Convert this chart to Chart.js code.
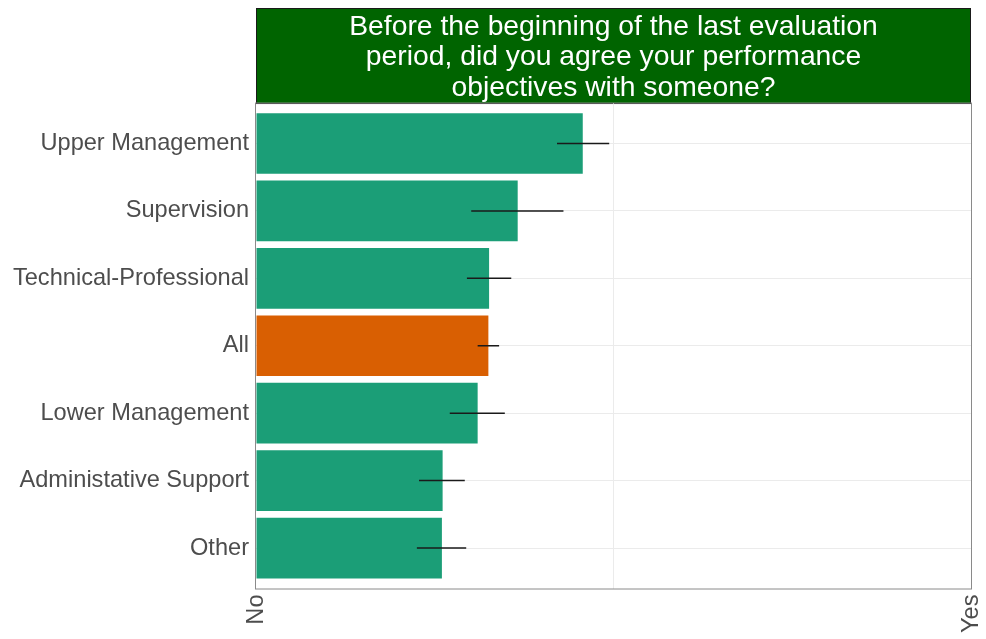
<!DOCTYPE html>
<html>
<head>
<meta charset="utf-8">
<script src="https://cdn.jsdelivr.net/npm/chart.js@4/dist/chart.umd.min.js"></script>
<style>
html,body{margin:0;padding:0;background:#fff;}
#wrap{width:986px;height:639px;}
</style>
</head>
<body>
<div id="wrap"><canvas id="c" width="986" height="639"></canvas></div>
<script>
const titleLines = ["Before the beginning of the last evaluation", "period, did you agree your performance", "objectives with someone?"];
const categories = ["Upper Management", "Supervision", "Technical-Professional", "All", "Lower Management", "Administative Support", "Other"];
const shareYes = [0.457, 0.366, 0.326, 0.325, 0.310, 0.261, 0.260];
const ciLow = [0.421, 0.301, 0.295, 0.310, 0.271, 0.228, 0.225];
const ciHigh = [0.494, 0.430, 0.357, 0.340, 0.348, 0.292, 0.294];
const xTickValues = [0, 0.5, 1];
const xTickLabels = ["No", "", "Yes"];

const GREEN = "#1b9e77", ORANGE = "#d95f02";
const barColors = categories.map(c => c === "All" ? ORANGE : GREEN);
const points = categories.map((c, i) => ({x: shareYes[i], y: i}));

const stripPlugin = {
  id: "strip",
  beforeDraw(chart) {
    const t = chart.titleBlock, a = chart.chartArea, ctx = chart.ctx;
    ctx.save();
    ctx.fillStyle = "#006400";
    ctx.fillRect(a.left, t.top, a.right - a.left, a.top - t.top);
    ctx.strokeStyle = "#1a1a1a";
    ctx.lineWidth = 1;
    ctx.strokeRect(a.left + 0.5, t.top + 0.5, a.right - a.left - 1, a.top - t.top);
    ctx.restore();
  }
};

const errPlugin = {
  id: "errbars",
  afterDatasetsDraw(chart) {
    const xs = chart.scales.x, ys = chart.scales.y, ctx = chart.ctx, a = chart.chartArea;
    ctx.save();
    ctx.strokeStyle = "#1a1a1a";
    ctx.lineWidth = 1.5;
    categories.forEach((c, i) => {
      const y = ys.getPixelForValue(i);
      ctx.beginPath();
      ctx.moveTo(xs.getPixelForValue(ciLow[i]), y);
      ctx.lineTo(xs.getPixelForValue(ciHigh[i]), y);
      ctx.stroke();
    });
    ctx.strokeStyle = "#8a8a8a";
    ctx.lineWidth = 1;
    ctx.strokeRect(a.left - 0.5, a.top, a.right - a.left + 1, a.bottom - a.top + 0.5);
    ctx.restore();
  }
};

new Chart(document.getElementById("c"), {
  type: "bar",
  data: {
    datasets: [{
      data: points,
      backgroundColor: barColors,
      borderWidth: 0,
      barPercentage: 0.9,
      categoryPercentage: 1.0
    }]
  },
  options: {
    indexAxis: "y",
    responsive: false,
    animation: false,
    layout: {padding: {top: 8, right: 15, left: 0, bottom: 0}},
    plugins: {
      legend: {display: false},
      tooltip: {enabled: false},
      title: {
        display: true,
        fullSize: false,
        text: titleLines,
        color: "#ffffff",
        font: {family: "'Liberation Sans', Arial, sans-serif", size: 28.3, weight: "normal", lineHeight: 1.07},
        padding: {top: 4.2, bottom: 0}
      }
    },
    scales: {
      x: {
        type: "linear",
        min: 0, max: 1,
        afterBuildTicks(s) { s.ticks = xTickValues.map(v => ({value: v})); },
        afterFit(s) { s.height = 50.5; s.paddingLeft = 0; s.paddingRight = 0; },
        ticks: {
          autoSkip: false, minRotation: 90, maxRotation: 90,
          padding: 6,
          color: "#4d4d4d",
          font: {family: "'Liberation Sans', Arial, sans-serif", size: 23.6},
          callback(v) { const i = xTickValues.indexOf(v); return i >= 0 ? xTickLabels[i] : ""; }
        },
        grid: {
          drawTicks: false,
          color(ctx) { return ctx.tick && ctx.tick.value === 0.5 ? "#ebebeb" : "rgba(0,0,0,0)"; },
          lineWidth: 1
        },
        border: {display: false}
      },
      y: {
        type: "linear",
        min: -0.6, max: 6.6,
        reverse: true,
        offset: false,
        bounds: "data",
        grace: 0,
        afterBuildTicks(s) { s.ticks = categories.map((c, i) => ({value: i})); },
        afterFit(s) { s.width = 256; s.paddingTop = 0; s.paddingBottom = 0; },
        ticks: {
          autoSkip: false,
          padding: 7,
          color: "#4d4d4d",
          font: {family: "'Liberation Sans', Arial, sans-serif", size: 23.6},
          callback(v) { return categories[v] !== undefined ? categories[v] : ""; }
        },
        grid: {drawTicks: false, offset: false, color: "#ebebeb", lineWidth: 1},
        border: {display: false}
      }
    }
  },
  plugins: [stripPlugin, errPlugin]
});
</script>
</body>
</html>
